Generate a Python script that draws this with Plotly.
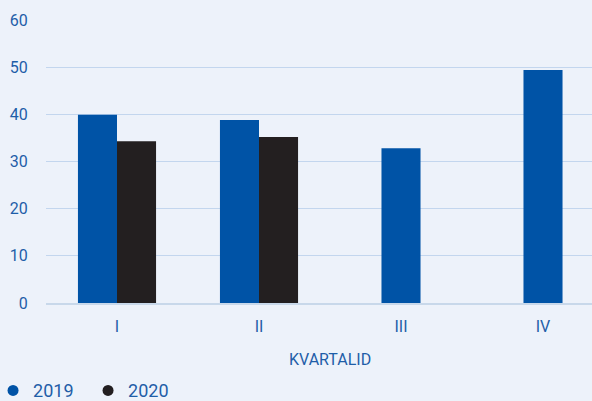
import plotly.graph_objects as go

quarters = ["I", "II", "III", "IV"]
values_2019 = [39.9, 38.8, 32.8, 49.4]
values_2020 = [34.3, 35.2, None, None]
tick_vals_y = [0, 10, 20, 30, 40, 50, 60]

BLUE = "#0053A6"
DARK = "#231F20"
TEXT = "#1F5EA8"
BG = "#EDF2FA"
GRID = "#C3D6EE"
FONT = "Roboto"

bw = 0.275
off_2019 = [-bw if v is not None else -bw / 2 for v in values_2020]
off_2020 = [0.0 for _ in values_2020]

fig = go.Figure()
fig.add_trace(go.Bar(x=quarters, y=values_2019, name="2019", marker_color=BLUE,
                     marker_line_width=0, width=bw, offset=off_2019, showlegend=False))
fig.add_trace(go.Bar(x=quarters, y=values_2020, name="2020", marker_color=DARK,
                     marker_line_width=0, width=bw, offset=off_2020, showlegend=False))
# legend entries with circle markers
fig.add_trace(go.Scatter(x=[None], y=[None], mode="markers", name="2019",
                         marker=dict(symbol="circle", size=11, color=BLUE)))
fig.add_trace(go.Scatter(x=[None], y=[None], mode="markers", name="2020",
                         marker=dict(symbol="circle", size=11, color=DARK)))

fig.add_annotation(x=1.5, xref="x", y=-0.2, yref="paper", text="KVARTALID",
                   showarrow=False, yanchor="middle",
                   font=dict(family=FONT, size=16, color=TEXT))

fig.update_layout(
    width=592, height=401,
    margin=dict(l=46, r=0, t=20, b=98, autoexpand=False),
    paper_bgcolor=BG, plot_bgcolor=BG,
    barmode="overlay",
    font=dict(family=FONT, size=16, color=TEXT),
    legend=dict(orientation="h", x=-0.097, xanchor="left", y=-0.31, yanchor="middle",
                font=dict(family=FONT, size=18, color=TEXT), itemwidth=30,
                entrywidth=50, bgcolor="rgba(0,0,0,0)", tracegroupgap=0),
    xaxis=dict(type="category", range=[-0.5, 3.345], showgrid=False,
               showline=True, linecolor="#C8D8EA", linewidth=2,
               ticks="outside", ticklen=8, tickcolor="rgba(0,0,0,0)",
               tickfont=dict(family=FONT, size=16, color=TEXT), fixedrange=True),
    yaxis=dict(range=[0, 60], tickvals=tick_vals_y, showgrid=True, gridcolor=GRID,
               gridwidth=1, zeroline=False, ticks="outside", ticklen=14,
               tickcolor="rgba(0,0,0,0)",
               tickfont=dict(family=FONT, size=16, color=TEXT)),
)

fig.write_html("out.html", config={"responsive": False, "displayModeBar": False},
               post_script="document.body.style.margin='0';document.body.style.overflow='hidden';")
